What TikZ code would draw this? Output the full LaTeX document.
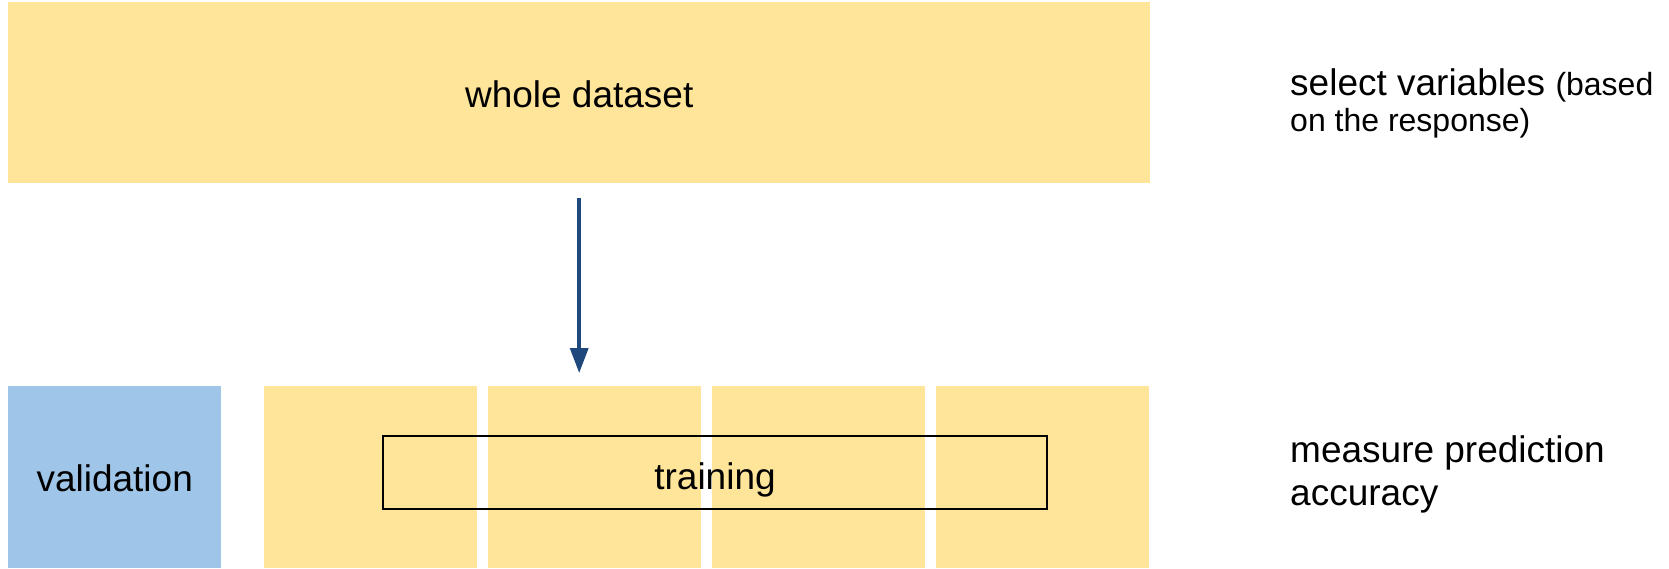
\documentclass[tikz,border=0pt]{standalone}
\usepackage{fontspec}
\setmainfont{Liberation Sans}
\usetikzlibrary{arrows.meta}
\definecolor{dyellow}{RGB}{255,229,153}
\definecolor{dblue}{RGB}{159,197,232}
\definecolor{arrowblue}{RGB}{31,73,125}
\tikzset{
  ybox/.style={fill=dyellow, draw=none, inner sep=0pt, anchor=north west, minimum height=182pt},
  bbox/.style={fill=dblue, draw=none, inner sep=0pt, anchor=north west, minimum height=182pt},
  big/.style={font=\fontsize{37}{44}\selectfont},
  small/.style={font=\fontsize{32}{38}\selectfont},
  side/.style={inner sep=0pt, anchor=base west},
  flow/.style={draw=arrowblue, line width=3.5pt, -{Triangle[width=18pt,length=25pt]}},
}
\begin{document}
\begin{tikzpicture}[x=1pt,y=-1pt]
\useasboundingbox (0,0) rectangle (1669,568);
\node[ybox, big, minimum width=1142pt, minimum height=181pt, text height=29pt, text depth=0pt] (whole) at (8,2) {whole dataset};
\node[bbox, big, minimum width=213pt, text height=29pt, text depth=0pt] (val) at (8,386) {validation};
\node[ybox, minimum width=213pt] (t1) at (264,386) {};
\node[ybox, minimum width=213pt] (t2) at (488,386) {};
\node[ybox, minimum width=213pt] (t3) at (712,386) {};
\node[ybox, minimum width=213pt] (t4) at (936,386) {};
\node[draw=black, line width=2pt, inner sep=0pt, anchor=north west, minimum width=664pt, minimum height=73pt, big, text height=34pt, text depth=0pt] (train) at (382,435) {training};
\draw[flow, shorten <=15pt, shorten >=13pt] (whole.south) -- (whole.south |- t2.north);
\node[side] (sel1) at (1290,95) {\fontsize{37}{44}\selectfont select variables \fontsize{32}{38}\selectfont(based};
\node[side, small] (sel2) at (1290,131) {on the response)};
\node[side, big] (meas1) at (1290,462) {measure prediction};
\node[side, big] (meas2) at (1290,505) {accuracy};
\end{tikzpicture}
\end{document}
